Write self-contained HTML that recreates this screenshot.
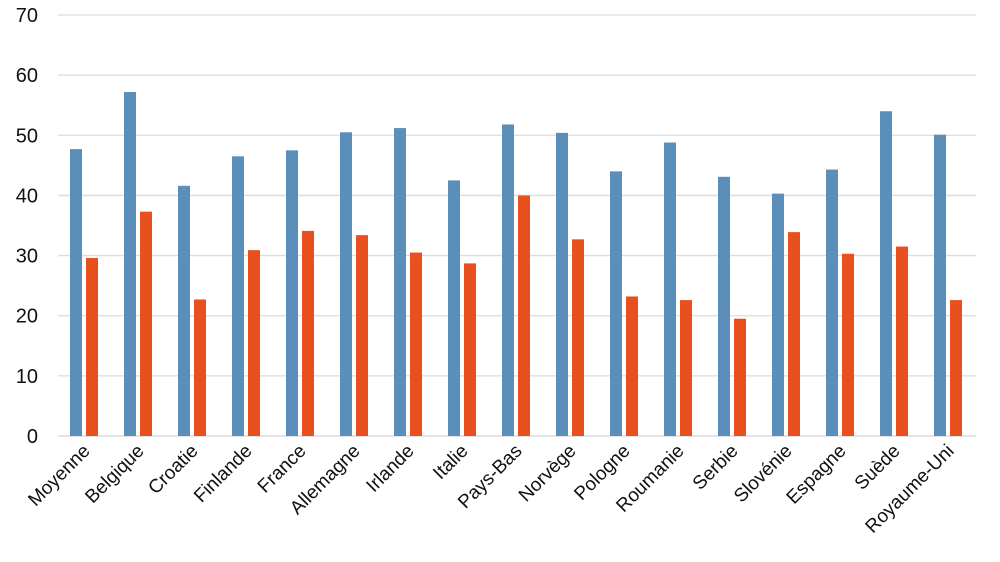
<!DOCTYPE html>
<html><head><meta charset="utf-8"><style>
html,body{margin:0;padding:0;background:#fff;width:1000px;height:562px;overflow:hidden}
text{font-family:"Liberation Sans",sans-serif;fill:#111}
</style></head><body>
<svg id="chart" width="1000" height="562" xmlns="http://www.w3.org/2000/svg">
<g id="grid"></g>
<g id="yaxis"></g>
<g id="bars"></g>
<g id="xaxis"></g>
</svg>
<script>
const categories=["Moyenne","Belgique","Croatie","Finlande","France","Allemagne","Irlande","Italie","Pays-Bas","Norvège","Pologne","Roumanie","Serbie","Slovénie","Espagne","Suède","Royaume-Uni"];
const seriesBlue=[47.7,57.2,41.6,46.5,47.5,50.5,51.2,42.5,51.8,50.4,44.0,48.8,43.1,40.3,44.3,54.0,50.1];
const seriesOrange=[29.6,37.3,22.7,30.9,34.1,33.4,30.5,28.7,40.0,32.7,23.2,22.6,19.5,33.9,30.3,31.5,22.6];
const yTicks=[0,10,20,30,40,50,60,70];
const NS="http://www.w3.org/2000/svg";
const left=58,right=976,y0=436,yTop=15,yMax=70;
const band=(right-left)/categories.length;
function y(v){return y0-(v/yMax)*(y0-yTop);}
function xc(i){return left+band*(i+0.5);}
function mk(tag,attrs,parent){const e=document.createElementNS(NS,tag);for(const k in attrs)e.setAttribute(k,attrs[k]);parent.appendChild(e);return e;}
const grid=document.getElementById('grid'),ya=document.getElementById('yaxis'),bars=document.getElementById('bars'),xa=document.getElementById('xaxis');
yTicks.forEach(t=>{
  const l=mk('line',{x1:left,x2:right,y1:y(t),y2:y(t),stroke:t===0?'#d4d4d4':'#dcdcdc','stroke-width':1.3},grid);
  
  
  const tx=mk('text',{x:38,y:y(t)+7,'text-anchor':'end','font-size':20},ya);
  tx.textContent=t;
  
  
});
categories.forEach((c,i)=>{
  const cx=xc(i);
  const b=mk('rect',{x:cx-15,y:y(seriesBlue[i]),width:12,height:y0-y(seriesBlue[i]),fill:'#5b8fba'},bars);
  
  
  const o=mk('rect',{x:cx+1,y:y(seriesOrange[i]),width:12,height:y0-y(seriesOrange[i]),fill:'#e8501e'},bars);
  
  
  const t=mk('text',{x:0,y:0,'text-anchor':'end','font-size':19,transform:'translate('+(cx+6)+',452) rotate(-45)'},xa);
  t.textContent=c;
  
  
});
</script>
</body></html>
